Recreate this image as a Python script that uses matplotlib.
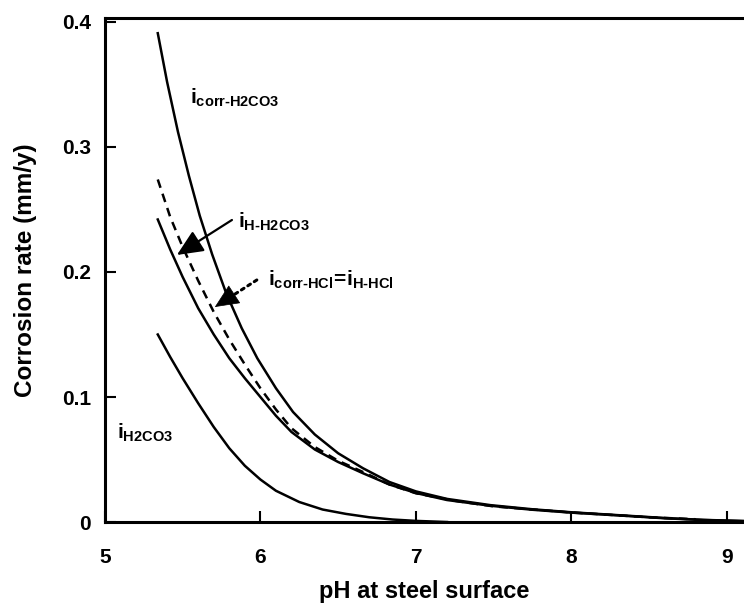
import matplotlib
matplotlib.use('Agg')
import matplotlib.pyplot as plt

plt.rcParams['font.family'] = ['Liberation Sans', 'DejaVu Sans']
plt.rcParams['mathtext.fontset'] = 'custom'
plt.rcParams['mathtext.rm'] = 'Liberation Sans:bold'
plt.rcParams['mathtext.it'] = 'Liberation Sans:bold'
plt.rcParams['mathtext.bf'] = 'Liberation Sans:bold'

# corrosion current from H2CO3 (upper solid)
ph_corr_h2co3 = [5.34, 5.40, 5.47, 5.54, 5.61, 5.69, 5.78, 5.88, 5.98, 6.10, 6.21, 6.35, 6.50,
                 6.66, 6.83, 7.00, 7.20, 7.48, 7.75, 8.00, 8.30, 8.60, 8.85, 9.11]
corr_h2co3 = [0.391, 0.352, 0.312, 0.277, 0.245, 0.214, 0.183, 0.155, 0.131, 0.107, 0.088, 0.070, 0.055,
              0.043, 0.032, 0.0245, 0.0185, 0.0135, 0.0102, 0.0078, 0.0055, 0.0032, 0.0017, 0.0008]

# H2CO3 reduction current (middle solid)
ph_h_h2co3 = [5.34, 5.42, 5.50, 5.60, 5.70, 5.80, 5.90, 6.00, 6.10, 6.20, 6.35, 6.50, 6.66,
              6.83, 7.00, 7.20, 7.48, 7.75, 8.00, 8.30, 8.60, 8.85, 9.11]
h_h2co3 = [0.242, 0.218, 0.196, 0.171, 0.150, 0.131, 0.115, 0.100, 0.085, 0.072, 0.058, 0.048, 0.039,
           0.030, 0.0232, 0.0176, 0.013, 0.0098, 0.0075, 0.0053, 0.0030, 0.0016, 0.0007]

# HCl corrosion = H+ reduction (dashed)
ph_hcl = [5.34, 5.42, 5.50, 5.60, 5.70, 5.80, 5.90, 6.00, 6.10, 6.20, 6.35, 6.50, 6.66, 6.83,
          7.00, 7.25, 7.50, 8.00, 8.50, 8.80]
hcl = [0.274, 0.244, 0.220, 0.193, 0.168, 0.146, 0.126, 0.107, 0.090, 0.075, 0.060, 0.049, 0.040, 0.030,
       0.023, 0.017, 0.0125, 0.0076, 0.0038, 0.0022]

# direct H2CO3 reduction (lower solid)
ph_h2co3 = [5.34, 5.42, 5.50, 5.60, 5.70, 5.80, 5.90, 6.00, 6.10, 6.25, 6.40, 6.55, 6.70, 6.85, 7.00, 7.20]
i_h2co3 = [0.150, 0.132, 0.115, 0.095, 0.076, 0.059, 0.045, 0.034, 0.025, 0.016, 0.010, 0.0065,
           0.0038, 0.002, 0.0009, 0.0]

xticks = [5, 6, 7, 8, 9]
yticks = [0, 0.1, 0.2, 0.3, 0.4]
ytick_labels = ['0', '0.1', '0.2', '0.3', '0.4']

fig = plt.figure(figsize=(7.44, 6.07), dpi=100)
ax = fig.add_axes([0.141, 0.140, 0.859, 0.830])

ax.plot(ph_corr_h2co3, corr_h2co3, color='black', lw=1.8)
ax.plot(ph_h_h2co3, h_h2co3, color='black', lw=1.8)
ax.plot(ph_hcl, hcl, color='black', lw=1.8, linestyle=(0, (3.5, 2.5)))
ax.plot(ph_h2co3, i_h2co3, color='black', lw=1.8)

ax.set_xlim(5, 9.11)
ax.set_ylim(0, 0.403)
ax.set_xticks(xticks)
ax.set_yticks(yticks)
ax.set_yticklabels(ytick_labels)
ax.tick_params(direction='in', length=8, width=1.5, labelsize=15)
ax.tick_params(axis='x', pad=19)
ax.tick_params(axis='y', pad=10)
for lab in ax.get_xticklabels() + ax.get_yticklabels():
    lab.set_fontweight('bold')
for side in ['left', 'bottom', 'top']:
    ax.spines[side].set_linewidth(2.2)
ax.spines['right'].set_visible(False)

ax.set_xlabel('pH at steel surface', fontsize=17, fontweight='bold', labelpad=9)
ax.set_ylabel('Corrosion rate (mm/y)', fontsize=17.5, fontweight='bold', labelpad=18)

# curve labels
ax.text(5.547, 0.339, r'$\mathrm{i_{corr\text{-}H2CO3}}$', fontsize=15, va='center', ha='left')
ax.text(5.855, 0.240, r'$\mathrm{i_{H\text{-}H2CO3}}$', fontsize=15, va='center', ha='left')
ax.text(6.048, 0.194, r'$\mathrm{i_{corr\text{-}HCl}\!{=}\!i_{H\text{-}HCl}}$', fontsize=15, va='center', ha='left')
ax.text(5.077, 0.071, r'$\mathrm{i_{H2CO3}}$', fontsize=15, va='center', ha='left')

head = '-|>,head_length=1.0,head_width=0.45'
ax.annotate('', xy=(5.463, 0.2136), xytext=(5.817, 0.2416),
            arrowprops=dict(arrowstyle=head, mutation_scale=16,
                            color='black', lw=1.6, shrinkA=0, shrinkB=0))
# dotted shaft, solid head
ax.annotate('', xy=(5.74, 0.1746), xytext=(5.977, 0.1936),
            arrowprops=dict(arrowstyle='-', color='black', lw=2.2,
                            linestyle=(0, (1, 1.5)), shrinkA=0, shrinkB=0))
ax.annotate('', xy=(5.707, 0.172), xytext=(5.80, 0.1795),
            arrowprops=dict(arrowstyle=head, mutation_scale=16,
                            color='black', lw=0.5, shrinkA=0, shrinkB=0))

fig.savefig('out.png', dpi=100)
